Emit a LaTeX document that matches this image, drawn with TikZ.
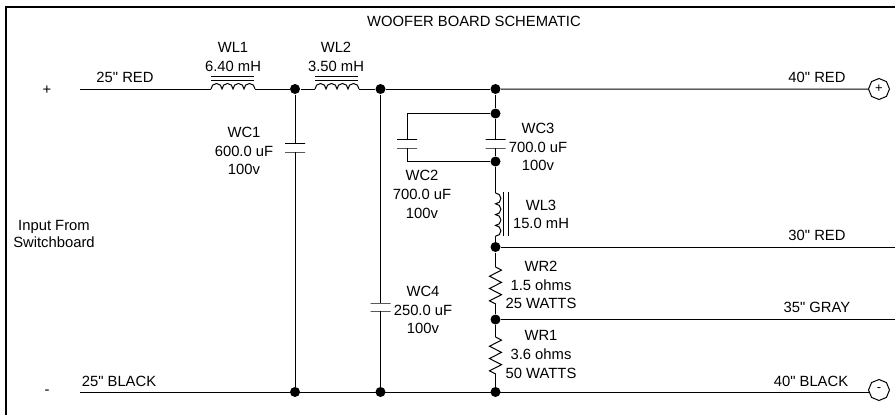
\documentclass[tikz,border=0pt]{standalone}
\usepackage{fontspec}
\newfontfamily\lblfont{Liberation Sans}
\usetikzlibrary{shapes.geometric,decorations.pathmorphing}

\tikzset{
  dot/.style = {circle, fill, inner sep=0pt, minimum size=10pt},
  plate/.style = {draw, inner sep=0pt, outer sep=0pt, minimum width=20pt, minimum height=0pt},
  term/.style = {draw, regular polygon, regular polygon sides=8, shape border rotate=22.5, inner sep=0pt, minimum size=21pt, font=\lblfont\fontsize{13}{13}\selectfont},
  lbl/.style = {align=center, inner sep=0pt, font=\lblfont\fontsize{14.8}{18.7}\selectfont},
  hcoil/.style = {to path={arc[start angle=180,end angle=0,radius=5.5pt] arc[start angle=180,end angle=0,radius=5.5pt] arc[start angle=180,end angle=0,radius=5.5pt] arc[start angle=180,end angle=0,radius=5.5pt] (\tikztotarget)}},
  vcoil/.style = {to path={arc[start angle=90,end angle=-90,radius=5.4pt] arc[start angle=90,end angle=-90,radius=5.4pt] arc[start angle=90,end angle=-90,radius=5.4pt] arc[start angle=90,end angle=-90,radius=5.4pt] (\tikztotarget)}},
  res/.style = {decorate, decoration={zigzag, segment length=12.3pt, amplitude=6pt}}
}

\begin{document}
\begin{tikzpicture}[x=1pt,y=-1pt,line width=1pt]
        \useasboundingbox (0,0) rectangle (895,415);

        % frame
        \draw[line width=2pt] (895,7) -- (6,7) -- (6,415);

        % junctions
        \node[dot](a1) at (295,89) {};
        \node[dot](b1) at (380.5,89) {};
        \node[dot](c1) at (495.5,89) {};
        \node[dot](c2) at (495.5,113.5) {};
        \node[dot](c3) at (495.5,161.5) {};
        \node[dot](c4) at (495.5,247) {};
        \node[dot](c5) at (495.5,319.5) {};
        \node[dot](a2) at (295,392) {};
        \node[dot](b2) at (380.5,392) {};
        \node[dot](c6) at (495.5,392) {};

        % free ends of the wires
        \coordinate (in1) at (80,89);
        \coordinate (in2) at (80,392);
        \coordinate (out3) at (895,247);
        \coordinate (out4) at (895,319.5);
        \coordinate (out2) at (869,392);
        \coordinate (wc2a) at (407,113.5);
        \coordinate (wc2b) at (407,161.5);

        % inductors
        \coordinate (wl1a) at (211,89);
        \coordinate (wl1b) at (255,89);
        \coordinate (wl2a) at (315,89);
        \coordinate (wl2b) at (359,89);
        \coordinate (wl3a) at (495.5,193);
        \coordinate (wl3b) at (495.5,236);

        % resistors
        \coordinate (wr2a) at (495.5,267);
        \coordinate (wr2b) at (495.5,304);
        \coordinate (wr1a) at (495.5,337);
        \coordinate (wr1b) at (495.5,374);

        % capacitors
        \node[plate](wc1a) at (295,143.5) {};
        \node[plate](wc1b) at (295,152) {};
        \node[plate](wc2t) at (407,139.5) {};
        \node[plate](wc2u) at (407,148) {};
        \node[plate](wc3a) at (495.5,139.5) {};
        \node[plate](wc3b) at (495.5,148) {};
        \node[plate](wc4a) at (380.5,303) {};
        \node[plate](wc4b) at (380.5,311) {};

        % terminals
        \node[term](tp) at (879,89) {+};
        \node[term](tm) at (879,390) {-};

        \path[draw]
        (in1) edge (wl1a)
        (wl1a) edge[hcoil] (wl1b)
        (wl1b) edge (a1)
        (a1) edge (wl2a)
        (wl2a) edge[hcoil] (wl2b)
        (wl2b) edge (b1)
        (b1) edge (c1)
        (c1) edge (tp)
        (in2) edge (out2)
        (c4) edge (out3)
        (c5) edge (out4)
        (a1) edge (wc1a)
        (wc1b) edge (a2)
        (b1) edge (wc4a)
        (wc4b) edge (b2)
        (c1) edge (c2)
        (c2) edge (wc3a)
        (wc3b) edge (c3)
        (c2) edge (wc2a)
        (wc2a) edge (wc2t)
        (c3) edge (wc2b)
        (wc2b) edge (wc2u)
        (c3) edge (wl3a)
        (wl3a) edge[vcoil] (wl3b)
        (wl3b) edge (c4)
        (c4) edge (wr2a)
        (wr2a) edge[res] (wr2b)
        (wr2b) edge (c5)
        (c5) edge (wr1a)
        (wr1a) edge[res] (wr1b)
        (wr1b) edge (c6)
        ;

        % inductor cores
        \draw (211,76) -- (254,76);
        \draw (211,80) -- (254,80);
        \draw (315,76) -- (358,76);
        \draw (315,80) -- (358,80);
        \draw (503,192) -- (503,236);
        \draw (508,192) -- (508,236);

        % labels
        \node[lbl](title) at (474,21) {WOOFER BOARD SCHEMATIC};
        \node[lbl](lwl1) at (233,57) {WL1\\6.40 mH};
        \node[lbl](lwl2) at (336,57) {WL2\\3.50 mH};
        \node[lbl](lwc1) at (244,151) {WC1\\600.0 uF\\100v};
        \node[lbl](lwc2) at (422,194.5) {WC2\\700.0 uF\\100v};
        \node[lbl](lwc3) at (538,147) {WC3\\700.0 uF\\100v};
        \node[lbl](lwl3) at (541,214.5) {WL3\\15.0 mH};
        \node[lbl](lwr2) at (541,285) {WR2\\1.5 ohms\\25 WATTS};
        \node[lbl](lwr1) at (541,354.5) {WR1\\3.6 ohms\\50 WATTS};
        \node[lbl](lwc4) at (423,310) {WC4\\250.0 uF\\100v};
        \node[lbl,font=\lblfont\fontsize{14.8}{17}\selectfont](lin) at (54,233.5) {Input From\\Switchboard};
        \node[lbl](lplus) at (47,90) {+};
        \node[lbl](lminus) at (47,392) {-};
        \node[lbl](lr25) at (125,77) {25" RED};
        \node[lbl](lb25) at (119,381) {25" BLACK};
        \node[lbl](lr40) at (817,77) {40" RED};
        \node[lbl](lb40) at (811,381) {40" BLACK};
        \node[lbl](lr30) at (817,235) {30" RED};
        \node[lbl](lg35) at (817,307) {35" GRAY};
      \end{tikzpicture}
\end{document}
